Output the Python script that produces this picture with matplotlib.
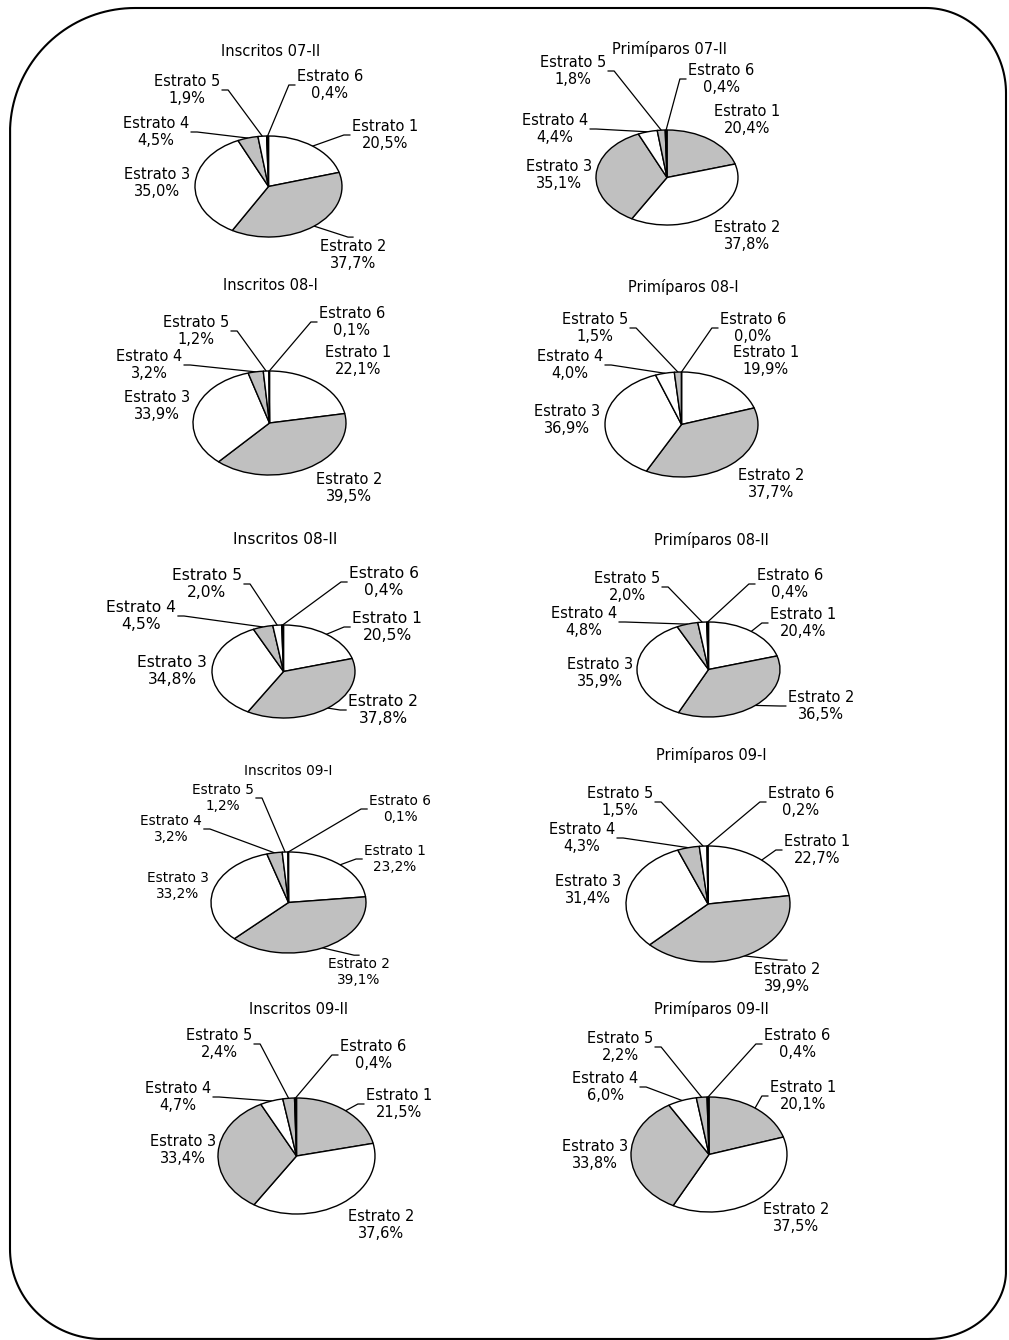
"""Ten pie charts of students by estrato, Inscritos vs Primiparos, 07-II to 09-II."""
import numpy as np
import matplotlib
matplotlib.use('Agg')
import matplotlib.pyplot as plt
from matplotlib.path import Path
from matplotlib.patches import PathPatch, Rectangle

W, H = 1009, 1340

titles = ['Inscritos 07-II', 'Primíparos 07-II', 'Inscritos 08-I', 'Primíparos 08-I',
          'Inscritos 08-II', 'Primíparos 08-II', 'Inscritos 09-I', 'Primíparos 09-I',
          'Inscritos 09-II', 'Primíparos 09-II']
strata = ['Estrato 1', 'Estrato 2', 'Estrato 3', 'Estrato 4', 'Estrato 5', 'Estrato 6']

inscritos_07_2 = [20.5, 37.7, 35.0, 4.5, 1.9, 0.4]
primiparos_07_2 = [20.4, 37.8, 35.1, 4.4, 1.8, 0.4]
inscritos_08_1 = [22.1, 39.5, 33.9, 3.2, 1.2, 0.1]
primiparos_08_1 = [19.9, 37.7, 36.9, 4.0, 1.5, 0.0]
inscritos_08_2 = [20.5, 37.8, 34.8, 4.5, 2.0, 0.4]
primiparos_08_2 = [20.4, 36.5, 35.9, 4.8, 2.0, 0.4]
inscritos_09_1 = [23.2, 39.1, 33.2, 3.2, 1.2, 0.1]
primiparos_09_1 = [22.7, 39.9, 31.4, 4.3, 1.5, 0.2]
inscritos_09_2 = [21.5, 37.6, 33.4, 4.7, 2.4, 0.4]
primiparos_09_2 = [20.1, 37.5, 33.8, 6.0, 2.2, 0.4]

series = [inscritos_07_2, primiparos_07_2, inscritos_08_1, primiparos_08_1,
          inscritos_08_2, primiparos_08_2, inscritos_09_1, primiparos_09_1,
          inscritos_09_2, primiparos_09_2]

# --- layout (pixels, y down) ---
WH, GR, BK = 'white', '#c0c0c0', 'black'
scheme_a = [WH, GR, WH, GR, WH, BK]
scheme_b = [GR, WH, GR, WH, GR, BK]
scheme_c = [WH, GR, WH, WH, GR, BK]
schemes = [scheme_a, scheme_b, scheme_a, scheme_c, scheme_a,
           scheme_a, scheme_a, scheme_a, scheme_b, scheme_b]

pie_boxes = [(268.5, 186.5, 73.5, 50.5), (667, 177.5, 71, 47.5),
             (269.5, 423, 76.5, 52), (681.5, 424.5, 76.5, 52.5),
             (283.5, 671.5, 71.5, 46.5), (708.5, 669.5, 71.5, 47.5),
             (288.5, 902.5, 77.5, 50.5), (708, 904, 82, 58),
             (296.5, 1156, 78.5, 58), (709, 1154.5, 78, 57.5)]
title_pos = [(271, 51), (670, 49), (270, 286), (683, 287), (285, 540),
             (711, 540), (288, 771), (711, 755), (299, 1010), (711, 1009)]
label_pos = [
    [(385, 135), (353, 255), (157, 183), (156, 132), (187, 90), (330, 85)],
    [(747, 120), (747, 236), (559, 175), (555, 129), (573, 71), (721, 79)],
    [(358, 361), (349, 488), (157, 406), (149, 365), (196, 331), (352, 322)],
    [(766, 361), (771, 484), (567, 420), (570, 365), (595, 328), (753, 328)],
    [(387, 627), (383, 710), (172, 671), (141, 616), (207, 584), (384, 582)],
    [(803, 623), (821, 706), (600, 673), (584, 622), (627, 587), (790, 584)],
    [(395, 859), (359, 972), (178, 886), (171, 829), (223, 798), (400, 809)],
    [(817, 850), (787, 978), (588, 890), (582, 838), (620, 802), (801, 802)],
    [(399, 1104), (381, 1225), (183, 1150), (178, 1097), (219, 1044), (373, 1055)],
    [(803, 1096), (796, 1218), (595, 1155), (605, 1087), (620, 1047), (797, 1044)],
]
font_sizes = [10.5, 10.5, 10.5, 10.5, 11.2, 10.5, 9.8, 10.5, 10.5, 10.5]
clip_bottom = {7: 988}

plt.rcParams['font.family'] = ['DejaVu Sans']

fig = plt.figure(figsize=(W / 100, H / 100), dpi=100)
ax = fig.add_axes([0, 0, 1, 1])
ax.set_xlim(0, W)
ax.set_ylim(H, 0)
ax.axis('off')

# rounded frame, each corner with its own radii (rx, ry)
left, top, right, bottom = 10, 8, 1006, 1339
corners = [(right, top, 80, 85, -90), (right, bottom, 78, 68, 0),
           (left, bottom, 92, 90, 90), (left, top, 125, 125, 180)]
pts = []
for (ex, ey, crx, cry, a0) in corners:
    ccx = ex - crx if ex == right else ex + crx
    ccy = ey + cry if ey == top else ey - cry
    t = np.deg2rad(np.linspace(a0, a0 + 90, 40))
    pts += list(zip(ccx + crx * np.cos(t), ccy + cry * np.sin(t)))
pts.append(pts[0])
ax.add_patch(PathPatch(Path(pts), facecolor='none', edgecolor='black', lw=1.5))

items = []
for i, vals in enumerate(series):
    cx, cy, rx, ry = pie_boxes[i]
    pax = fig.add_axes([(cx - rx) / W, 1 - (cy + ry) / H, 2 * rx / W, 2 * ry / H])
    wedges, _ = pax.pie(vals, colors=schemes[i], startangle=90, counterclock=False,
                        wedgeprops=dict(edgecolor='black', linewidth=1.0))
    pax.set_aspect('auto')
    pax.set_xlim(-1, 1)
    pax.set_ylim(-1, 1)
    for w in wedges:
        w.set_clip_on(False)

    fs = font_sizes[i]
    tx, ty = title_pos[i]
    ax.text(tx, ty, titles[i], ha='center', va='center', fontsize=fs)
    for k, (name, v) in enumerate(zip(strata, vals)):
        lx, ly = label_pos[i][k]
        txt = ax.text(lx, ly, f'{name}\n{v:.1f}%'.replace('.', ','), ha='center',
                      va='center', fontsize=fs, linespacing=1.15)
        if i in clip_bottom:
            clip = Rectangle((lx - 100, ly - 100), 200, clip_bottom[i] - (ly - 100),
                             transform=ax.transData)
            txt.set_clip_path(clip)
        items.append((txt, wedges[k], pax))

# leader lines from wedge edge to label
fig.canvas.draw()
rend = fig.canvas.get_renderer()
inv = ax.transData.inverted()
for txt, wedge, pax in items:
    bb = txt.get_window_extent(rend)
    (x0, ya), (x1, yb) = inv.transform([[bb.x0, bb.y0], [bb.x1, bb.y1]])
    y0, y1 = min(ya, yb), max(ya, yb)
    mid = np.deg2rad((wedge.theta1 + wedge.theta2) / 2)
    px, py = inv.transform(pax.transData.transform((np.cos(mid), np.sin(mid))))
    xm, ym = (x0 + x1) / 2, (y0 + y1) / 2
    dx = max(x0 - px, 0, px - x1)
    dy = max(y0 - py, 0, py - y1)
    if np.hypot(dx, dy) < 10:
        continue
    if dy > 3 and x0 - 20 <= px <= x1 + 20:
        qy = y0 - 2 if py < y0 else y1 + 2
        qx = xm
        sx = qx - 5 if px < qx else qx + 5
        ax.plot([qx, sx, px], [qy, qy, py], color='black', lw=0.9)
    else:
        qx = x0 - 2 if px < x0 else x1 + 2
        sx = qx - 6 if px < qx else qx + 6
        ax.plot([qx, sx, px], [ym, ym, py], color='black', lw=0.9)

fig.savefig('out.png', dpi=100)
